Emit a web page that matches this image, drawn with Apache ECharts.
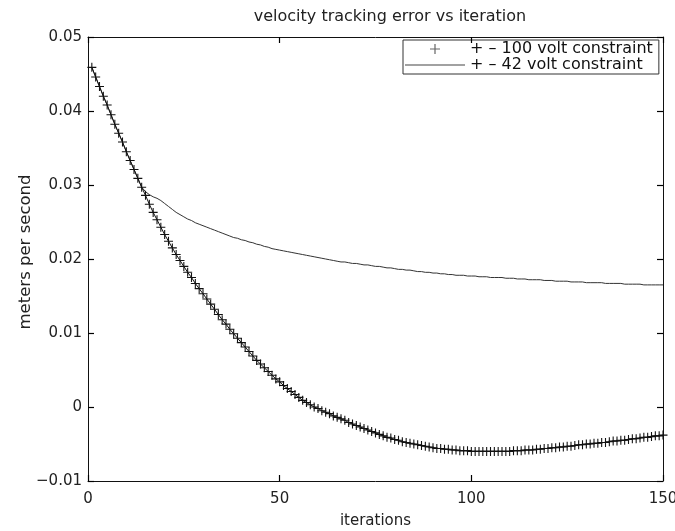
<!DOCTYPE html>
<html>
<head>
<meta charset="utf-8">
<script src="https://cdn.jsdelivr.net/npm/echarts@6/dist/echarts.min.js"></script>
<style>
html,body{margin:0;padding:0;background:#fff;overflow:hidden;}
#chart{width:675px;height:531px;}
</style>
</head>
<body>
<div id="chart"></div>
<script>
const titleText = 'velocity tracking error vs iteration';
const xLabel = 'iterations';
const yLabel = 'meters per second';
const seriesNames = ['+ \u2013 100 volt constraint', '+ \u2013 42 volt constraint'];
const xTicks = [0, 50, 100, 150];
const yTicks = [-0.01, 0, 0.01, 0.02, 0.03, 0.04, 0.05];

// values at iterations 1..150
const volt100 = [
 0.0459,0.0446,0.0433,0.0420,0.0408,0.0395,0.0382,0.0370,0.0358,0.0345,
 0.0333,0.0321,0.0309,0.0297,0.0286,0.0274,0.0263,0.0253,0.0243,0.0233,
 0.0224,0.0215,0.0206,0.0198,0.0190,0.0182,0.0175,0.0167,0.0160,0.0153,
 0.0146,0.0139,0.0132,0.0125,0.0118,0.0112,0.0105,0.0099,0.0093,0.0087,
 0.0081,0.0075,0.0069,0.0063,0.0058,0.0053,0.0048,0.0043,0.0038,0.0034,
 0.0029,0.0025,0.0021,0.0017,0.0013,0.0009,0.0006,0.0003,0.0000,-0.0002,
 -0.0005,-0.0007,-0.0009,-0.0012,-0.0014,-0.0016,-0.0018,-0.0021,-0.0023,-0.0025,
 -0.0027,-0.0029,-0.0031,-0.0033,-0.0035,-0.0037,-0.0039,-0.0041,-0.0042,-0.0044,
 -0.0045,-0.0047,-0.0048,-0.0049,-0.0050,-0.0051,-0.0052,-0.0053,-0.0054,-0.0055,
 -0.0056,-0.0056,-0.0057,-0.0057,-0.0058,-0.0058,-0.0059,-0.0059,-0.0059,-0.0060,
 -0.0060,-0.0060,-0.0060,-0.0060,-0.0060,-0.0060,-0.0060,-0.0060,-0.0060,-0.0060,
 -0.0059,-0.0059,-0.0059,-0.0058,-0.0058,-0.0058,-0.0057,-0.0057,-0.0056,-0.0056,
 -0.0055,-0.0055,-0.0054,-0.0054,-0.0053,-0.0053,-0.0052,-0.0051,-0.0051,-0.0050,
 -0.0050,-0.0049,-0.0049,-0.0048,-0.0048,-0.0047,-0.0046,-0.0046,-0.0045,-0.0045,
 -0.0044,-0.0043,-0.0043,-0.0042,-0.0041,-0.0041,-0.0040,-0.0039,-0.0039,-0.0038
];
const volt42 = [
 0.0459,0.0446,0.0433,0.0420,0.0408,0.0395,0.0382,0.0370,0.0358,0.0345,
 0.0333,0.0321,0.0309,0.0297,0.0291,0.0287,0.0284,0.0282,0.0279,0.0275,
 0.0271,0.0267,0.0263,0.0260,0.0257,0.0254,0.0252,0.0249,0.0247,0.0245,
 0.0243,0.0241,0.0239,0.0237,0.0235,0.0233,0.0231,0.0229,0.0228,0.0226,
 0.0225,0.0223,0.0222,0.0220,0.0219,0.0217,0.0216,0.0214,0.0213,0.0212,
 0.0211,0.0210,0.0209,0.0208,0.0207,0.0206,0.0205,0.0204,0.0203,0.0202,
 0.0201,0.0200,0.0199,0.0198,0.0197,0.0196,0.0196,0.0195,0.0194,0.0194,
 0.0193,0.0192,0.0192,0.0191,0.0190,0.0190,0.0189,0.0188,0.0188,0.0187,
 0.0186,0.0186,0.0185,0.0185,0.0184,0.0183,0.0183,0.0182,0.0182,0.0181,
 0.0181,0.0180,0.0180,0.0179,0.0179,0.0178,0.0178,0.0178,0.0177,0.0177,
 0.0177,0.0176,0.0176,0.0176,0.0175,0.0175,0.0175,0.0175,0.0174,0.0174,
 0.0174,0.0173,0.0173,0.0173,0.0172,0.0172,0.0172,0.0172,0.0171,0.0171,
 0.0171,0.0170,0.0170,0.0170,0.0170,0.0169,0.0169,0.0169,0.0169,0.0168,
 0.0168,0.0168,0.0168,0.0168,0.0167,0.0167,0.0167,0.0167,0.0167,0.0166,
 0.0166,0.0166,0.0166,0.0166,0.0165,0.0165,0.0165,0.0165,0.0165,0.0165
];

const iters = volt100.map((_, i) => i + 1);
const plusPath = 'path://M4.4,0h1.2v4.4h4.4v1.2h-4.4v4.4h-1.2v-4.4h-4.4v-1.2h4.4z';
const linePath = 'path://M0,0H60V1.2H0Z';
const FONT = '"DejaVu Sans", Verdana, sans-serif';
const AX = '#111';
const TXT = '#222';

function fmtY(v) {
  const r = Math.round(v * 100) / 100;
  if (r === 0) return '0';
  const s = Math.abs(r).toFixed(2);
  return (r < 0 ? '\u22120' + s.slice(1) : s);
}

const chart = echarts.init(document.getElementById('chart'), null, {renderer: 'canvas'});
function axisBase() {
  return {
    axisLine: {show: true, onZero: false, lineStyle: {color: AX, width: 1}},
    axisTick: {show: true, inside: true, length: 6, interval: 0, lineStyle: {color: '#000', width: 1.2}},
    splitLine: {show: false},
    z: 10
  };
}
chart.setOption({
  animation: false,
  backgroundColor: '#fff',
  title: {
    text: titleText, left: 385, top: 4, textAlign: 'center',
    textStyle: {fontFamily: FONT, fontSize: 16, fontWeight: 'normal', color: TXT}
  },
  grid: {left: 88, right: 12, top: 37, bottom: 50, containLabel: false, outerBoundsMode: 'none'},
  legend: {
    left: 403, top: 40, orient: 'vertical', align: 'left',
    backgroundColor: '#fff', borderColor: '#333', borderWidth: 1, borderRadius: 0,
    padding: [1, 6, 1, 2], itemGap: 0, itemWidth: 60, itemHeight: 10, itemTextGap: 6,
    textStyle: {fontFamily: FONT, fontSize: 16, color: '#111', lineHeight: 14},
    data: [
      {name: seriesNames[0], icon: plusPath, itemStyle: {color: '#666'}},
      {name: seriesNames[1], icon: linePath, itemStyle: {color: '#444'}}
    ]
  },
  xAxis: [
    Object.assign(axisBase(), {
      type: 'value', min: 0, max: 150, interval: 50, position: 'bottom',
      name: xLabel, nameLocation: 'middle', nameGap: 33,
      nameTextStyle: {fontFamily: FONT, fontSize: 15, color: TXT},
      axisLabel: {fontFamily: FONT, fontSize: 15, color: TXT, margin: 11}
    }),
    Object.assign(axisBase(), {
      type: 'value', min: 0, max: 150, interval: 50, position: 'top',
      axisLabel: {show: false}
    })
  ],
  yAxis: [
    Object.assign(axisBase(), {
      type: 'value', min: -0.01, max: 0.05, interval: 0.01, position: 'left',
      name: yLabel, nameLocation: 'middle', nameGap: 54, nameRotate: 90,
      nameMoveOverlap: false,
      nameTextStyle: {fontFamily: FONT, fontSize: 16.5, color: TXT, padding: [0, 0, 0, 14]},
      axisLabel: {fontFamily: FONT, fontSize: 15, color: TXT, margin: 6, formatter: fmtY}
    }),
    Object.assign(axisBase(), {
      type: 'value', min: -0.01, max: 0.05, interval: 0.01, position: 'right',
      axisLabel: {show: false}
    })
  ],
  series: [
    {
      name: seriesNames[0], type: 'line', xAxisIndex: 0, yAxisIndex: 0,
      data: iters.map((x, i) => [x, volt100[i]]),
      symbol: plusPath, symbolSize: 9, showSymbol: true,
      lineStyle: {color: '#111', width: 1},
      itemStyle: {color: '#111'},
      z: 3
    },
    {
      name: seriesNames[1], type: 'line', xAxisIndex: 0, yAxisIndex: 0,
      data: iters.map((x, i) => [x, volt42[i]]),
      symbol: 'none', showSymbol: false,
      lineStyle: {color: '#333', width: 1},
      itemStyle: {color: '#333'},
      z: 2
    }
  ]
});
</script>
</body>
</html>
